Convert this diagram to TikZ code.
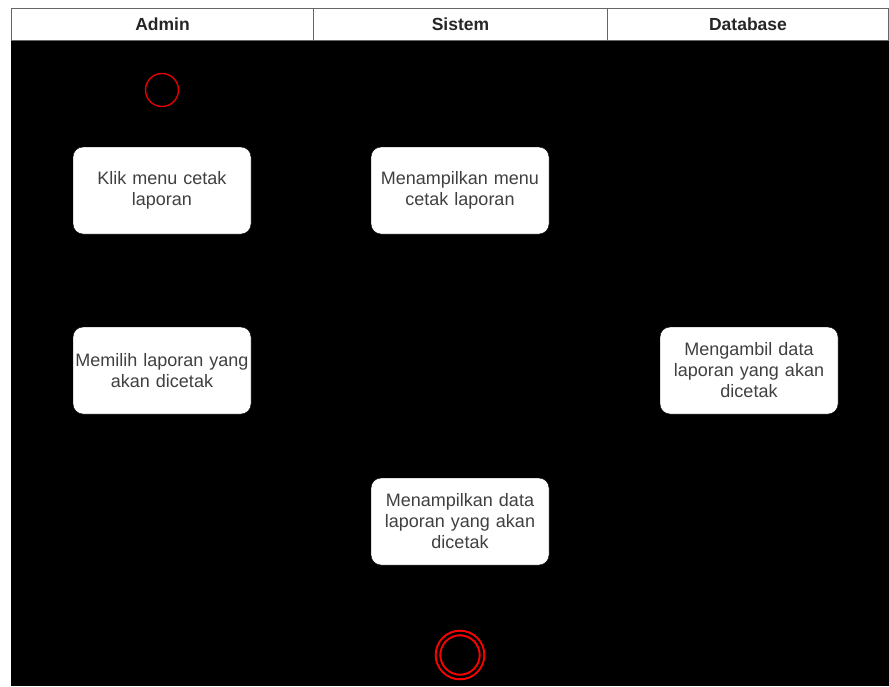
\documentclass[tikz,border=0pt]{standalone}
\usepackage{fontspec}
\setmainfont{Liberation Sans}
\begin{document}
\begin{tikzpicture}[x=1pt,y=-1pt,
  lanehead/.style={draw=black!60,line width=1pt,fill=white,minimum height=32pt,inner sep=0pt,
    font=\fontsize{17.5}{20}\selectfont\bfseries,text=black!85},
  action/.style={draw=black,fill=white,rounded corners=10pt,minimum width=178pt,minimum height=87pt,
    align=center,text width=178pt,inner sep=0pt,font=\fontsize{18}{21}\selectfont,text=black!75},
  initial/.style={circle,draw=red!90!black,line width=1.4pt,fill=black,minimum size=33pt,inner sep=0pt},
  final/.style={circle,draw=red,line width=2pt,double=black,double distance=2.5pt,fill=black,minimum size=44pt,inner sep=0pt}]
  % canvas and lane bodies
  \useasboundingbox (0,0) rectangle (889,686);
  \fill[white] (0,0) rectangle (889,686);
  \fill[black] (11,40) rectangle (889,686);
  % lane headers
  \node[lanehead,minimum width=302pt,anchor=north west] (hadmin) at (11,8) {Admin};
  \node[lanehead,minimum width=294pt,anchor=north west] (hsistem) at (313,8) {Sistem};
  \node[lanehead,minimum width=281pt,anchor=north west] (hdb) at (607,8) {Database};
  % activity nodes
  \node[initial] (start) at (162,90) {};
  \node[action] (klik) at (162,190.5) {Klik menu cetak\\laporan};
  \node[action] (tampilmenu) at (460,190.5) {Menampilkan menu\\cetak laporan};
  \node[action] (pilih) at (162,370.5) {Memilih laporan yang\\akan dicetak};
  \node[action] (ambil) at (749,370.5) {Mengambil data\\laporan yang akan\\dicetak};
  \node[action] (tampildata) at (460,521.5) {Menampilkan data\\laporan yang akan\\dicetak};
  \node[final] (end) at (460,655) {};
\end{tikzpicture}
\end{document}
